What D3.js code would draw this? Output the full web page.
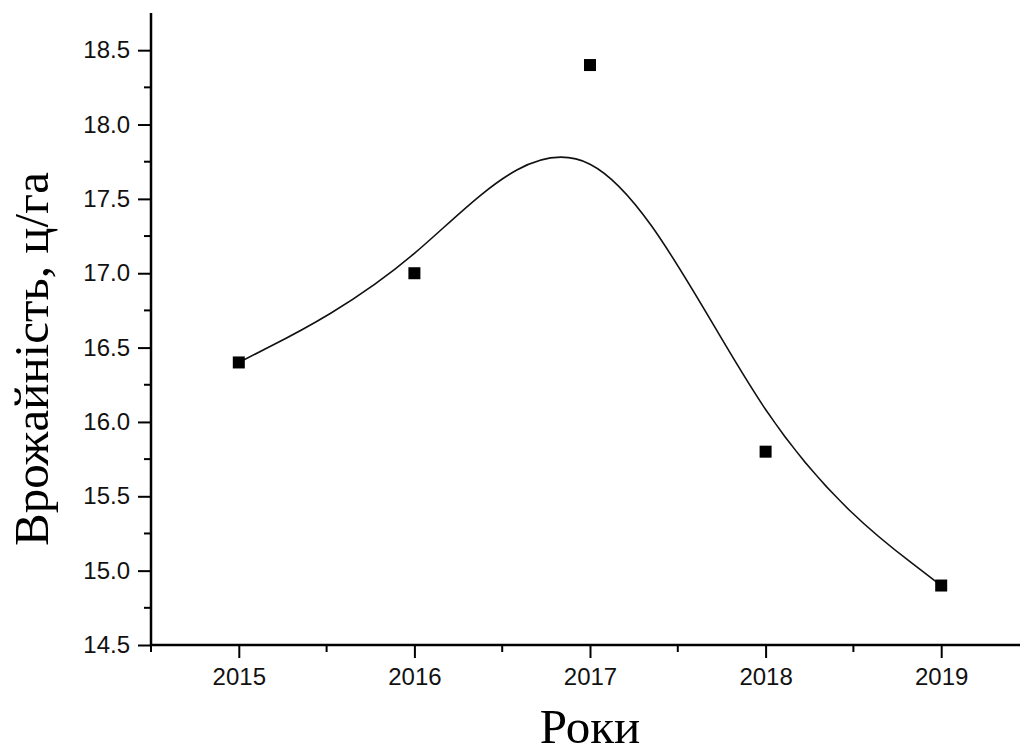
<!DOCTYPE html>
<html>
<head>
<meta charset="utf-8">
<script src="https://cdn.jsdelivr.net/npm/d3@7"></script>
<style>
  html, body { margin: 0; padding: 0; background: #fff; }
  svg { display: block; }
</style>
</head>
<body>
<svg id="chart" width="1020" height="749"></svg>
<script>
const years = [2015, 2016, 2017, 2018, 2019];
const yields = [16.4, 17.0, 18.4, 15.8, 14.9];
const xTicks = [2015, 2016, 2017, 2018, 2019];
const yTicks = [14.5, 15.0, 15.5, 16.0, 16.5, 17.0, 17.5, 18.0, 18.5];
const xMinorTicks = [2014.5, 2015.5, 2016.5, 2017.5, 2018.5, 2019.5];
const yMinorTicks = [14.75, 15.25, 15.75, 16.25, 16.75, 17.25, 17.75, 18.25];
const xTitle = "Роки";
const yTitle = "Врожайність, ц/га";

const svg = d3.select("#chart");
const mLeft = 151, mRight = 1029, mTop = 13, mBottom = 645;

const x = d3.scaleLinear().domain([2014.5, 2019.5]).range([mLeft, mRight]);
const y = d3.scaleLinear().domain([14.5, 18.75]).range([mBottom, mTop]);

// Y axis
const yAxis = d3.axisLeft(y).tickValues(yTicks).tickFormat(d3.format(".1f")).tickSize(13).tickSizeOuter(0).tickPadding(8);
const gy = svg.append("g").attr("transform", `translate(${mLeft},0)`).call(yAxis);
gy.select(".domain").remove();
gy.selectAll(".tick line").attr("stroke", "#000").attr("stroke-width", 2);
gy.selectAll(".tick text").attr("font-family", "Liberation Sans, Arial, sans-serif").attr("font-size", 24).attr("fill", "#111");
gy.selectAll(".minor").data(yMinorTicks).enter().append("line")
  .attr("x1", -7).attr("x2", 0).attr("y1", d => y(d)).attr("y2", d => y(d))
  .attr("stroke", "#000").attr("stroke-width", 2);

// X axis
const xAxis = d3.axisBottom(x).tickValues(xTicks).tickFormat(d3.format("d")).tickSize(13).tickSizeOuter(0).tickPadding(10);
const gx = svg.append("g").attr("transform", `translate(0,${mBottom})`).call(xAxis);
gx.select(".domain").remove();
gx.selectAll(".tick line").attr("stroke", "#000").attr("stroke-width", 2);
gx.selectAll(".tick text").attr("font-family", "Liberation Sans, Arial, sans-serif").attr("font-size", 24).attr("fill", "#111");
gx.selectAll(".minor").data(xMinorTicks).enter().append("line")
  .attr("x1", d => x(d)).attr("x2", d => x(d)).attr("y1", 0).attr("y2", 7)
  .attr("stroke", "#000").attr("stroke-width", 2);

// axis lines
svg.append("line").attr("x1", mLeft).attr("x2", mLeft).attr("y1", mTop).attr("y2", mBottom + 1)
  .attr("stroke", "#000").attr("stroke-width", 2.5);
svg.append("line").attr("x1", mLeft - 1).attr("x2", mRight).attr("y1", mBottom).attr("y2", mBottom)
  .attr("stroke", "#000").attr("stroke-width", 2.5);

// Smoothed line
const data = years.map((d, i) => ({ x: d, y: yields[i] }));
const line = d3.line().x(d => x(d.x)).y(d => y(d.y)).curve(d3.curveBasis);
svg.append("path").datum(data).attr("d", line)
  .attr("fill", "none").attr("stroke", "#111").attr("stroke-width", 1.6);

// Markers
const ms = 12;
svg.selectAll(".pt").data(data).enter().append("rect")
  .attr("x", d => x(d.x) - ms / 2).attr("y", d => y(d.y) - ms / 2)
  .attr("width", ms).attr("height", ms).attr("fill", "#000");

// Titles
svg.append("text").attr("x", x(2017)).attr("y", 743).attr("text-anchor", "middle")
  .attr("font-family", "Liberation Serif, Times New Roman, serif").attr("font-size", 49).attr("fill", "#000")
  .text(xTitle);
svg.append("text").attr("transform", `translate(48,359) rotate(-90)`).attr("text-anchor", "middle")
  .attr("font-family", "Liberation Serif, Times New Roman, serif").attr("font-size", 49).attr("fill", "#000")
  .text(yTitle);
</script>
</body>
</html>
